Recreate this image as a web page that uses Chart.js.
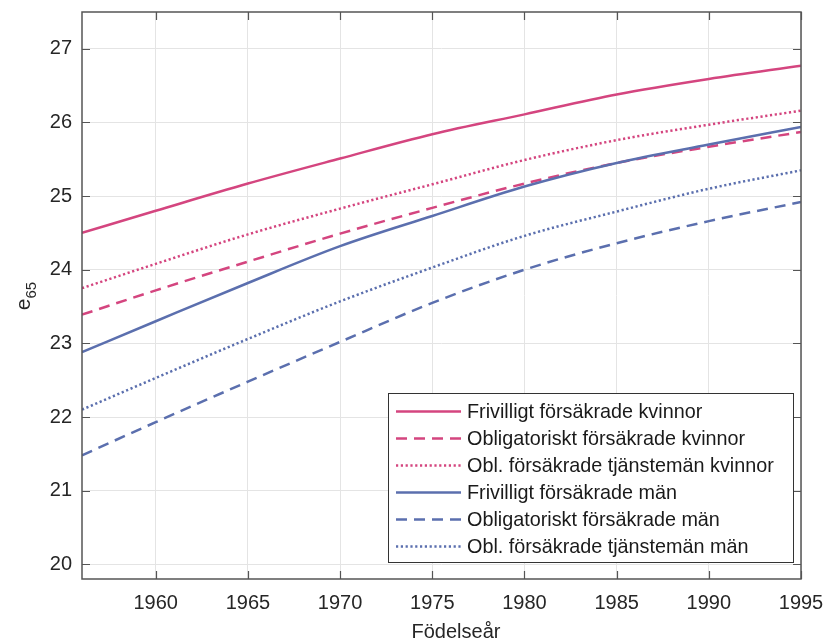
<!DOCTYPE html>
<html lang="sv">
<head>
<meta charset="utf-8">
<title>e65 efter födelseår</title>
<script src="https://cdn.jsdelivr.net/npm/chart.js@4/dist/chart.umd.min.js"></script>
<style>
  html, body { margin: 0; padding: 0; background: #fff; }
  #wrap { width: 827px; height: 643px; }
</style>
</head>
<body>
<div id="wrap"><canvas id="c" width="827" height="643"></canvas></div>
<script>
// Födelseår (x) och återstående medellivslängd vid 65 (y)
const years = [1956, 1960, 1965, 1970, 1975, 1980, 1985, 1990, 1995];

const frivKvinnor = [24.50, 24.80, 25.17, 25.51, 25.84, 26.11, 26.38, 26.59, 26.77];
const oblKvinnor  = [23.39, 23.72, 24.11, 24.49, 24.84, 25.17, 25.45, 25.67, 25.87];
const tjmKvinnor  = [23.75, 24.08, 24.48, 24.83, 25.16, 25.49, 25.76, 25.97, 26.16];
const frivMan     = [22.88, 23.30, 23.82, 24.32, 24.73, 25.13, 25.45, 25.70, 25.94];
const oblMan      = [21.48, 21.93, 22.48, 23.02, 23.55, 24.00, 24.36, 24.66, 24.92];
const tjmMan      = [22.10, 22.53, 23.06, 23.57, 24.03, 24.46, 24.79, 25.10, 25.35];

const seriesLabels = [
  'Frivilligt försäkrade kvinnor',
  'Obligatoriskt försäkrade kvinnor',
  'Obl. försäkrade tjänstemän kvinnor',
  'Frivilligt försäkrade män',
  'Obligatoriskt försäkrade män',
  'Obl. försäkrade tjänstemän män'
];

const xTicks = [1960, 1965, 1970, 1975, 1980, 1985, 1990, 1995];
const yTicks = [20, 21, 22, 23, 24, 25, 26, 27];

const PINK = '#d4457f';
const BLUE = '#5b6fae';
const FONT = '"Liberation Sans", Arial, Helvetica, sans-serif';

const DASH = [11, 7];
const DOT = [2.2, 2.6];

function pts(vals) { return years.map((y, i) => ({ x: y, y: vals[i] })); }

const styles = [
  { color: PINK, dash: [] },
  { color: PINK, dash: DASH },
  { color: PINK, dash: DOT },
  { color: BLUE, dash: [] },
  { color: BLUE, dash: DASH },
  { color: BLUE, dash: DOT }
];
const values = [frivKvinnor, oblKvinnor, tjmKvinnor, frivMan, oblMan, tjmMan];

const datasets = values.map((v, i) => ({
  label: seriesLabels[i],
  data: pts(v),
  borderColor: styles[i].color,
  borderDash: styles[i].dash,
  borderWidth: 2.5,
  pointRadius: 0,
  fill: false,
  cubicInterpolationMode: 'monotone',
  order: values.length - i
}));

// Ram, inåtvända tickmarkeringar, axeltitlar och legend inne i diagrammet
const decor = {
  id: 'decor',
  afterDatasetsDraw(chart) {
    const { ctx, chartArea: a, scales } = chart;
    const xs = scales.x, ys = scales.y;
    ctx.save();
    ctx.strokeStyle = '#555555';
    ctx.lineWidth = 1.5;
    ctx.strokeRect(a.left, a.top, a.right - a.left, a.bottom - a.top);
    const tl = 8;
    ctx.beginPath();
    xTicks.forEach(t => {
      const px = Math.round(xs.getPixelForValue(t)) + 0.5;
      ctx.moveTo(px, a.bottom); ctx.lineTo(px, a.bottom - tl);
      ctx.moveTo(px, a.top); ctx.lineTo(px, a.top + tl);
    });
    yTicks.forEach(t => {
      const py = Math.round(ys.getPixelForValue(t)) + 0.5;
      ctx.moveTo(a.left, py); ctx.lineTo(a.left + tl, py);
      ctx.moveTo(a.right, py); ctx.lineTo(a.right - tl, py);
    });
    ctx.lineWidth = 1.2;
    ctx.stroke();

    // x-axeltitel
    ctx.fillStyle = '#262626';
    ctx.font = '20px ' + FONT;
    ctx.textAlign = 'center';
    ctx.textBaseline = 'alphabetic';
    ctx.fillText('Födelseår', 456, 638);

    // y-axeltitel e65 med nedsänkt index
    ctx.save();
    ctx.translate(30, 296);
    ctx.rotate(-Math.PI / 2);
    ctx.font = '21px ' + FONT;
    const we = ctx.measureText('e').width;
    ctx.font = '15px ' + FONT;
    const ws = ctx.measureText('65').width;
    const start = -(we + ws) / 2;
    ctx.textAlign = 'left';
    ctx.font = '21px ' + FONT;
    ctx.fillText('e', start, 0);
    ctx.font = '15px ' + FONT;
    ctx.fillText('65', start + we, 6);
    ctx.restore();

    // Legend
    const bx = 388, by = 393, bw = 405, bh = 169;
    ctx.fillStyle = '#ffffff';
    ctx.fillRect(bx, by, bw, bh);
    ctx.strokeStyle = '#333333';
    ctx.lineWidth = 1;
    ctx.strokeRect(bx + 0.5, by + 0.5, bw, bh);
    ctx.font = '19.8px ' + FONT;
    ctx.textAlign = 'left';
    ctx.textBaseline = 'middle';
    chart.data.datasets.forEach((ds, i) => {
      const cy = 411.5 + i * 27;
      ctx.beginPath();
      ctx.setLineDash(ds.borderDash);
      ctx.strokeStyle = ds.borderColor;
      ctx.lineWidth = ds.borderWidth;
      ctx.moveTo(396, cy); ctx.lineTo(461, cy);
      ctx.stroke();
      ctx.setLineDash([]);
      ctx.fillStyle = '#1a1a1a';
      ctx.fillText(ds.label, 467, cy + 1);
    });
    ctx.restore();
  }
};

new Chart(document.getElementById('c'), {
  type: 'line',
  data: { datasets },
  options: {
    responsive: false,
    animation: false,
    layout: { padding: { top: 12, right: 26, left: 0, bottom: 0 } },
    plugins: { legend: { display: false }, tooltip: { enabled: false } },
    scales: {
      x: {
        type: 'linear',
        min: 1956,
        max: 1995,
        afterBuildTicks(s) { s.ticks = xTicks.map(v => ({ value: v })); },
        afterFit(s) { s.height = 64; s.paddingLeft = 0; s.paddingRight = 0; },
        grid: { color: '#e4e4e4', lineWidth: 1, drawTicks: false },
        border: { display: false },
        ticks: {
          padding: 12,
          maxRotation: 0,
          autoSkip: false,
          color: '#262626',
          font: { family: FONT, size: 20 },
          callback: v => String(v)
        }
      },
      y: {
        type: 'linear',
        min: 19.8,
        max: 27.5,
        afterBuildTicks(s) { s.ticks = yTicks.map(v => ({ value: v })); },
        afterFit(s) { s.width = 82; s.paddingTop = 0; s.paddingBottom = 0; },
        grid: { color: '#e4e4e4', lineWidth: 1, drawTicks: false },
        border: { display: false },
        ticks: {
          padding: 10,
          autoSkip: false,
          color: '#262626',
          font: { family: FONT, size: 20 },
          callback: v => String(v)
        }
      }
    }
  },
  plugins: [decor]
});
</script>
</body>
</html>
